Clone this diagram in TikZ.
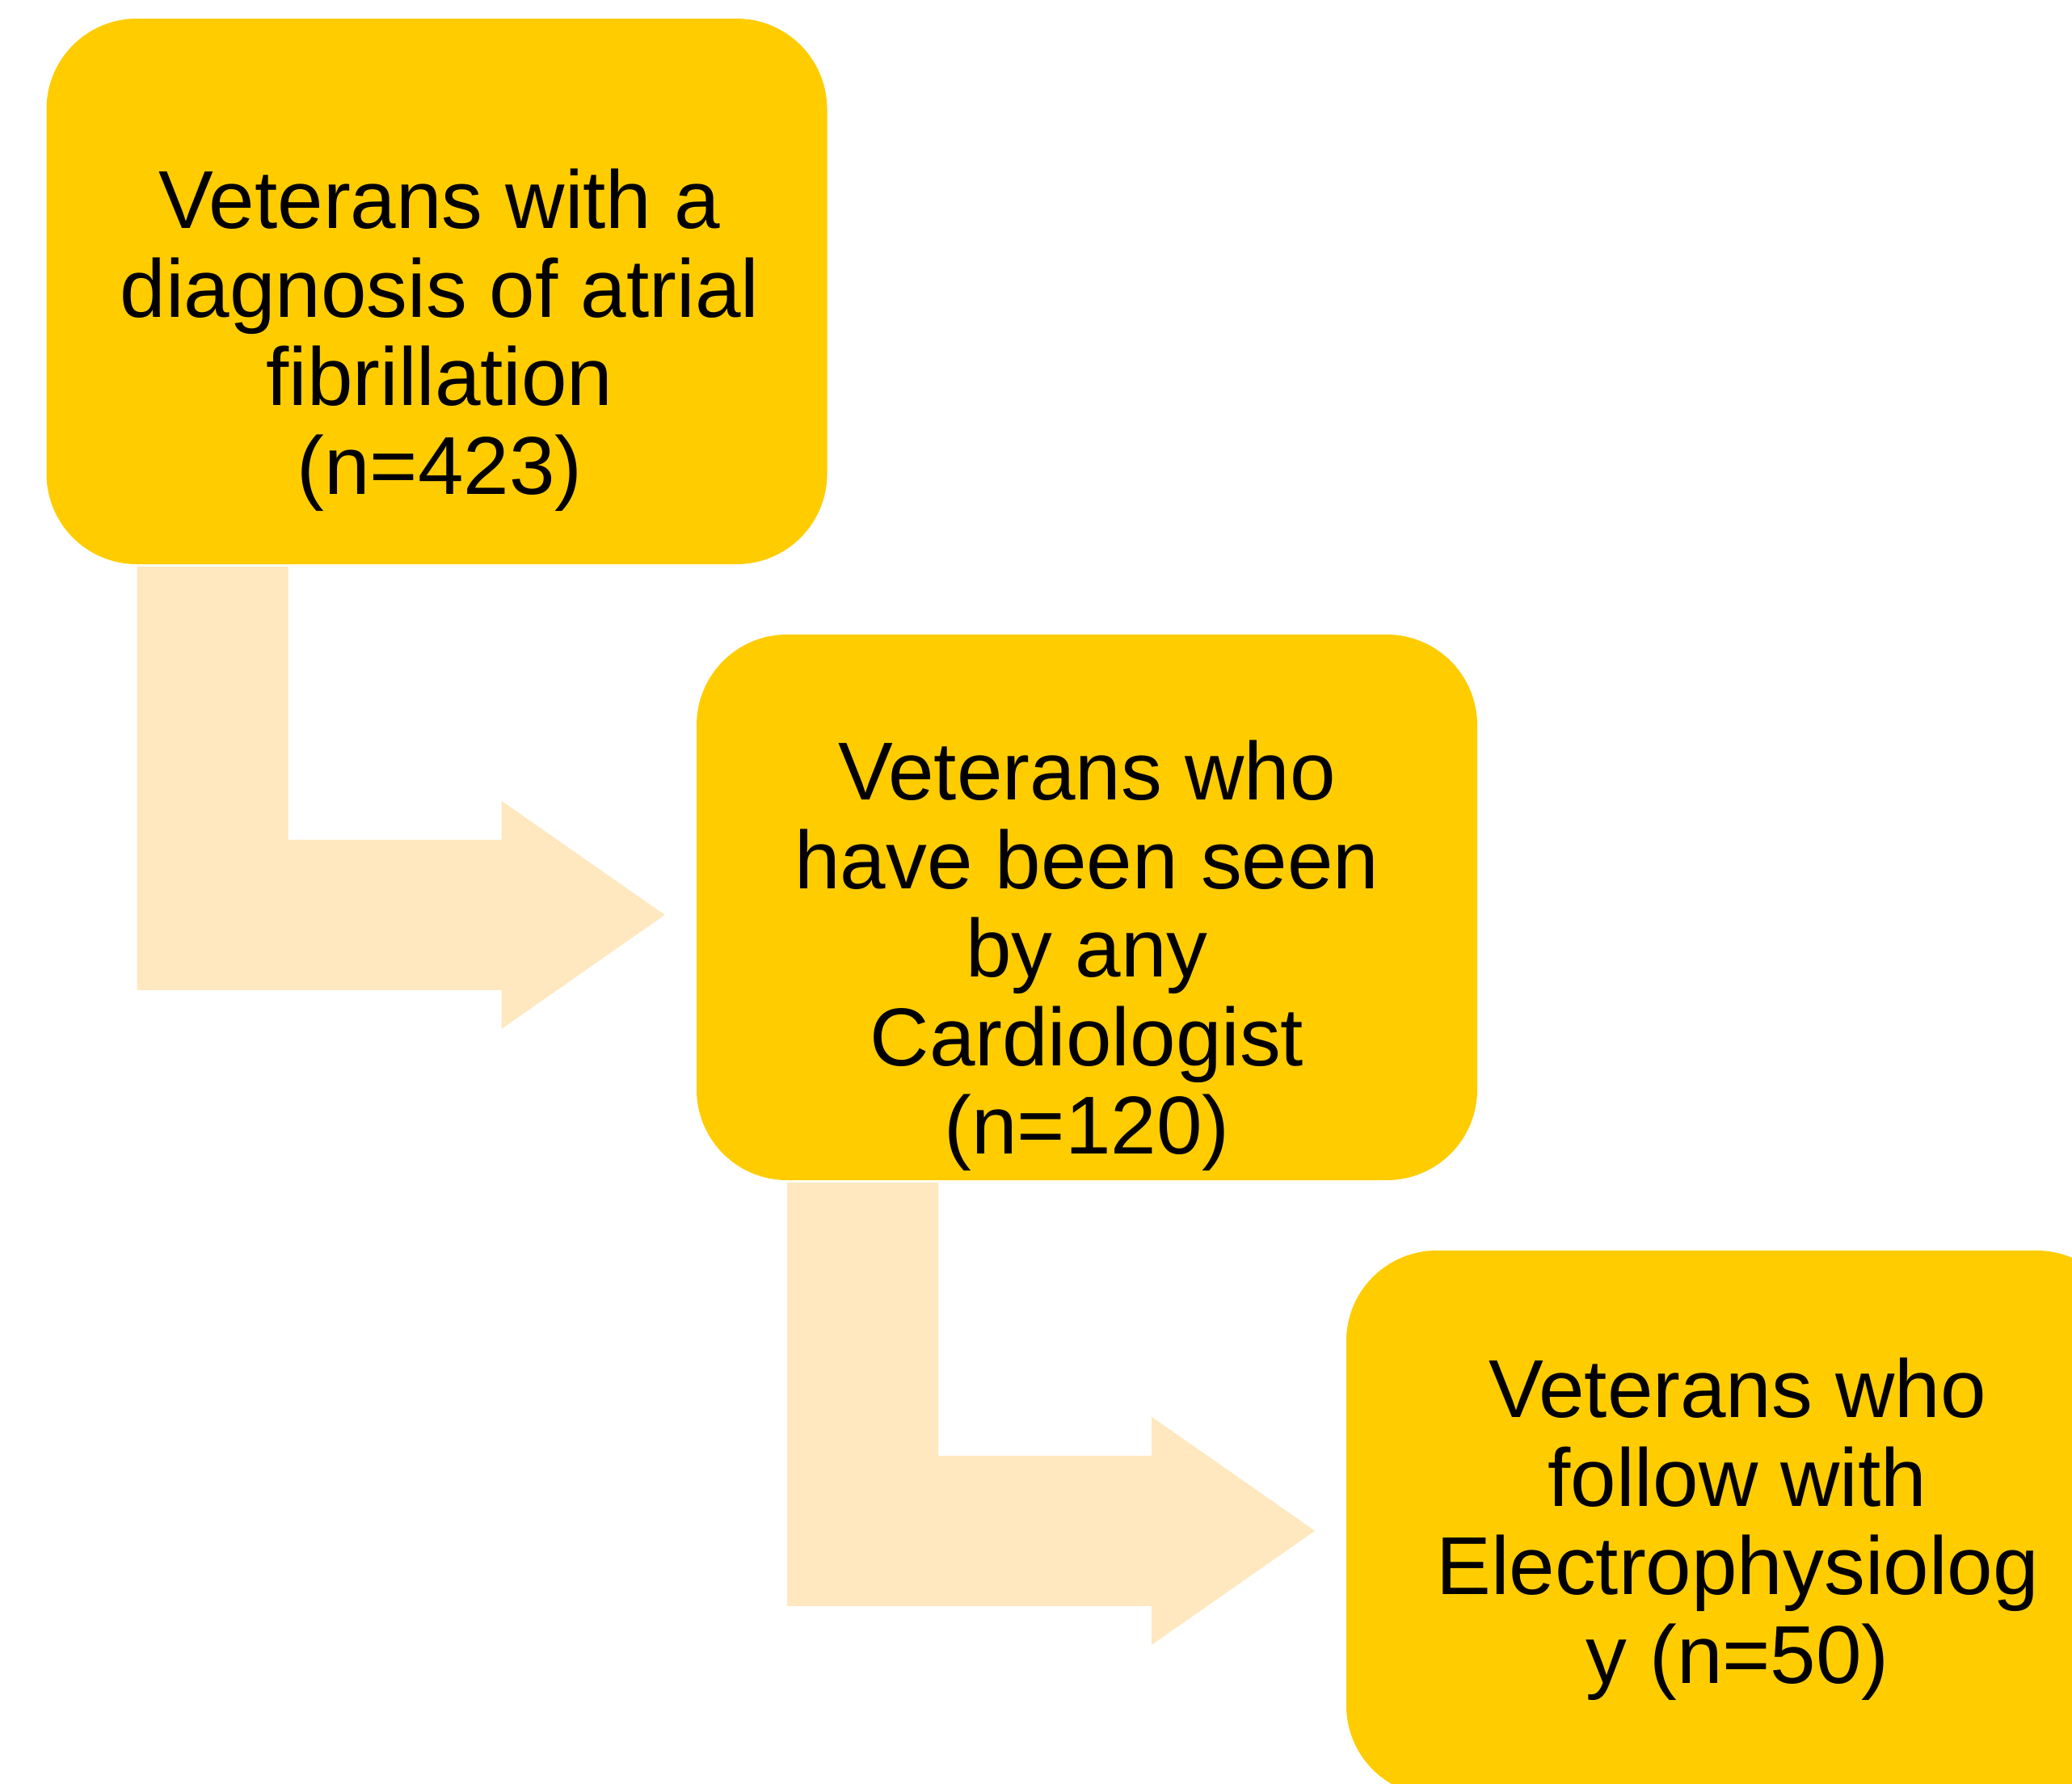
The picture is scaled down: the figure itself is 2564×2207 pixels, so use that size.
\documentclass[tikz,border=0pt]{standalone}
\usepackage{fontspec}
\setmainfont{Liberation Sans}
\definecolor{boxyellow}{HTML}{FFCC00}
\definecolor{arrowcream}{HTML}{FFE8BF}
\tikzset{
  stagebox/.style={fill=boxyellow, rounded corners=28pt, minimum width=241.5pt, minimum height=168.75pt, inner sep=0pt},
  stagetext/.style={anchor=north, align=center, inner sep=0pt, font=\fontsize{25.4pt}{27.4pt}\selectfont},
  bentarrow/.style={fill=arrowcream},
}
\begin{document}
\begin{tikzpicture}[x=0.25pt, y=-0.25pt]
    \useasboundingbox (0,0) rectangle (2564,2207);
    \node[stagebox] (b1) at (540.5,360.5) {};
    \node[stagebox] (b2) at (1345,1122.5) {};
    \node[stagebox] (b3) at (2149,1884.5) {};
\foreach \b in {b1,b2}
{
    \fill[bentarrow, shift={(\b.south west)}](113,2)--(300,2)--(300,340)--(564,340)--(564,292)--(766,433)--(564,574)--(564,526)--(113,526)--cycle;
}
    \node[stagetext] (t1) at (544,208) {Veterans with a\\diagnosis of atrial\\fibrillation\\(n=423)};
    \node[stagetext] (t2) at (1345,915) {Veterans who\\have been seen\\by any\\Cardiologist\\(n=120)};
    \node[stagetext] (t3) at (2150,1679) {Veterans who\\follow with\\Electrophysiolog\\y (n=50)};
\end{tikzpicture}
\end{document}
